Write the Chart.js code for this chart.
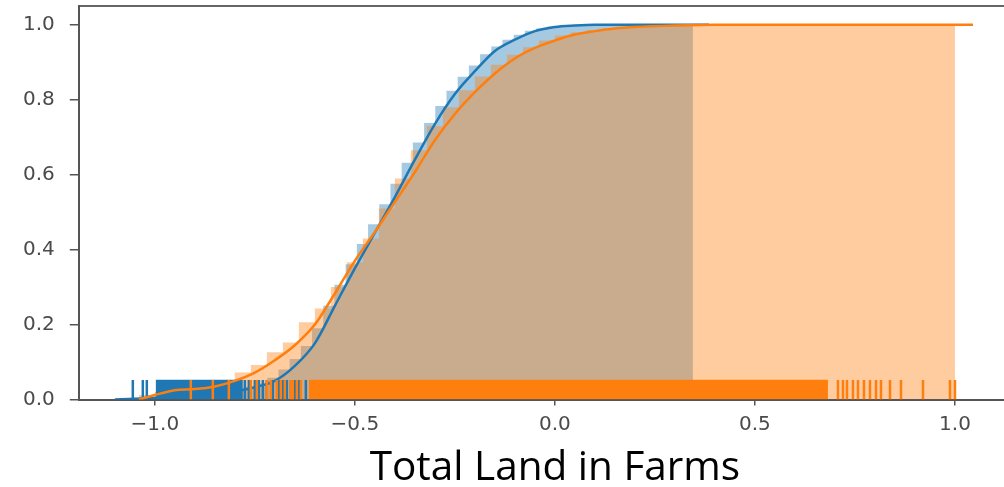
<!DOCTYPE html>
<html lang="en">
<head>
    <meta charset="UTF-8">
    <title>Total Land in Farms</title>
    <script src="https://cdn.jsdelivr.net/npm/chart.js"></script>
    <style>
        body {
            margin: 0;
            background: #ffffff;
            overflow: hidden;
        }
        #wrap {
            position: absolute;
            left: 0;
            top: 0;
            width: 1031px;
            height: 487px;
        }
    </style>
</head>
<body>
    <div id="wrap">
        <canvas id="cdfChart" width="1031" height="487"></canvas>
    </div>

    <script>
        // axis ticks
        const xTicks = [-1.0, -0.5, 0.0, 0.5, 1.0];
        const yTicks = [0.0, 0.2, 0.4, 0.6, 0.8, 1.0];

        // blue series: cumulative histogram (bin edges + cumulative share per bin)
        const blueEdges = [-1.055, -1.027, -0.999, -0.971, -0.943, -0.915, -0.887, -0.859, -0.831, -0.803,
            -0.775, -0.747, -0.719, -0.691, -0.663, -0.635, -0.607, -0.579, -0.551, -0.523,
            -0.495, -0.467, -0.439, -0.411, -0.383, -0.355, -0.327, -0.299, -0.271, -0.243,
            -0.215, -0.187, -0.159, -0.131, -0.103, -0.075, -0.047, -0.019, 0.009, 0.037,
            0.065, 0.093, 0.121, 0.149, 0.177, 0.205, 0.233, 0.261, 0.289, 0.317, 0.345];
        const blueHist = [0.004, 0.006, 0.010, 0.012, 0.014, 0.016, 0.018, 0.020, 0.022, 0.027,
            0.034, 0.043, 0.058, 0.080, 0.108, 0.143, 0.190, 0.250, 0.306, 0.361,
            0.415, 0.468, 0.521, 0.576, 0.632, 0.686, 0.738, 0.783, 0.824, 0.861,
            0.891, 0.921, 0.942, 0.960, 0.973, 0.984, 0.990, 0.995, 0.997, 0.998,
            0.999, 0.999, 0.999, 0.999, 0.999, 1.0, 1.0, 1.0, 1.0, 1.0];

        // blue series: cumulative KDE
        const blueKdeX = [-1.10, -1.00, -0.90, -0.80, -0.75, -0.70, -0.65, -0.60, -0.55, -0.50, -0.45, -0.40,
            -0.35, -0.30, -0.25, -0.20, -0.15, -0.10, -0.05, 0.00, 0.05, 0.10, 0.20, 0.30, 0.385];
        const blueKdeY = [0.000, 0.004, 0.010, 0.022, 0.033, 0.050, 0.090, 0.150, 0.250, 0.350, 0.445, 0.540,
            0.640, 0.735, 0.815, 0.876, 0.930, 0.960, 0.983, 0.994, 0.998, 1.000, 1.000, 1.000, 1.000];

        // orange series: cumulative histogram
        const orangeEdges = [-1.04, -1.00, -0.96, -0.92, -0.88, -0.84, -0.80, -0.76, -0.72, -0.68, -0.64,
            -0.60, -0.56, -0.52, -0.48, -0.44, -0.40, -0.36, -0.32, -0.28, -0.24,
            -0.20, -0.16, -0.12, -0.08, -0.04, 0.00, 0.04, 0.08, 0.12, 0.16,
            0.20, 0.24, 0.28, 0.32, 0.36, 0.40, 0.44, 0.48, 0.52, 0.56,
            0.60, 0.64, 0.68, 0.72, 0.76, 0.80, 0.84, 0.88, 0.92, 0.96, 1.00];
        const orangeHist = [0.012, 0.020, 0.026, 0.030, 0.038, 0.050, 0.072, 0.092, 0.126, 0.152,
            0.206, 0.243, 0.300, 0.366, 0.430, 0.510, 0.590, 0.665, 0.730, 0.780,
            0.825, 0.862, 0.893, 0.920, 0.940, 0.958, 0.971, 0.980, 0.986, 0.990,
            0.993, 0.995, 0.996, 0.997, 0.998, 0.998, 0.998, 0.999, 0.999, 0.999,
            0.999, 0.999, 0.999, 0.999, 1.0, 1.0, 1.0, 1.0, 1.0, 1.0, 1.0];

        // orange series: cumulative KDE
        const orangeKdeX = [-1.04, -1.00, -0.95, -0.90, -0.85, -0.80, -0.75, -0.70, -0.65, -0.60, -0.55, -0.50,
            -0.45, -0.40, -0.35, -0.30, -0.25, -0.20, -0.15, -0.10, -0.05, 0.00, 0.05, 0.10,
            0.15, 0.20, 0.30, 0.40, 0.70, 1.045];
        const orangeKdeY = [0.000, 0.012, 0.025, 0.028, 0.035, 0.050, 0.072, 0.105, 0.145, 0.200, 0.283, 0.370,
            0.447, 0.527, 0.607, 0.692, 0.762, 0.820, 0.870, 0.910, 0.938, 0.958, 0.974, 0.983,
            0.990, 0.994, 0.998, 1.000, 1.000, 1.000];

        // rug marks: single ticks and stretches so dense they merge into a solid block
        const blueRugTicks = [-1.055, -1.030, -1.020, -0.775, -0.765, -0.750, -0.740, -0.730, -0.720,
            -0.705, -0.690, -0.680, -0.670, -0.660, -0.650, -0.640, -0.6225];
        const blueRugBands = [[-0.998, -0.780]];
        const orangeRugTicks = [-0.910, -0.855, -0.815, -0.760, -0.745, -0.720, -0.710, -0.695, -0.685,
            -0.675, -0.660, -0.655, -0.645, -0.635, 0.7075, 0.720, 0.730, 0.745, 0.7575, 0.7725,
            0.7875, 0.8025, 0.815, 0.8375, 0.865, 0.920, 0.9875, 1.000];
        const orangeRugBands = [[-0.615, 0.6825]];
        const rugTop = 0.0525;

        const BLUE = '#1f77b4';
        const ORANGE = '#ff7f0e';

        function histPoints(edges, values) {
            const pts = [{ x: edges[0], y: 0 }];
            values.forEach((v, i) => pts.push({ x: edges[i + 1], y: v }));
            return pts;
        }

        function zipPoints(xs, ys) {
            return xs.map((x, i) => ({ x: x, y: ys[i] }));
        }

        function fmt(v) {
            const s = Number(v).toFixed(1);
            return s === '-0.0' ? '0.0' : s.replace('-', '\u2212');
        }

        // labels near the edges should not push the plot area inwards
        function noEdgePadding(s) {
            s.paddingTop = 0;
            s.paddingBottom = 0;
            s.paddingLeft = 0;
            s.paddingRight = 0;
        }

        const datasets = [
            {
                type: 'line',
                data: histPoints(blueEdges, blueHist),
                stepped: 'after',
                fill: 'origin',
                backgroundColor: 'rgba(31,119,180,0.4)',
                borderWidth: 0,
                pointRadius: 0,
                order: 20
            },
            {
                type: 'line',
                data: histPoints(orangeEdges, orangeHist),
                stepped: 'after',
                fill: 'origin',
                backgroundColor: 'rgba(255,127,14,0.4)',
                borderWidth: 0,
                pointRadius: 0,
                order: 19
            },
            {
                type: 'line',
                data: zipPoints(blueKdeX, blueKdeY),
                borderColor: BLUE,
                borderWidth: 2.5,
                cubicInterpolationMode: 'monotone',
                fill: false,
                pointRadius: 0,
                order: 10
            }
        ];

        blueRugBands.forEach(b => {
            datasets.push({
                type: 'line',
                data: [{ x: b[0], y: rugTop }, { x: b[1], y: rugTop }],
                fill: 'origin',
                backgroundColor: BLUE,
                borderWidth: 0,
                pointRadius: 0,
                order: 9
            });
        });

        datasets.push({
            type: 'scatter',
            data: blueRugTicks.map(x => ({ x: x, y: rugTop / 2 })),
            pointStyle: 'line',
            rotation: 90,
            radius: 9.8,
            borderColor: BLUE,
            borderWidth: 2.5,
            order: 8
        });

        datasets.push({
            type: 'line',
            data: zipPoints(orangeKdeX, orangeKdeY),
            borderColor: ORANGE,
            borderWidth: 2.5,
            cubicInterpolationMode: 'monotone',
            fill: false,
            pointRadius: 0,
            order: 7
        });

        orangeRugBands.forEach(b => {
            datasets.push({
                type: 'line',
                data: [{ x: b[0], y: rugTop }, { x: b[1], y: rugTop }],
                fill: 'origin',
                backgroundColor: ORANGE,
                borderWidth: 0,
                pointRadius: 0,
                order: 6
            });
        });

        datasets.push({
            type: 'scatter',
            data: orangeRugTicks.map(x => ({ x: x, y: rugTop / 2 })),
            pointStyle: 'line',
            rotation: 90,
            radius: 9.8,
            borderColor: ORANGE,
            borderWidth: 2.5,
            order: 5
        });

        const tickFont = { family: 'DejaVu Sans', size: 20 };

        new Chart(document.getElementById('cdfChart').getContext('2d'), {
            type: 'line',
            data: { datasets: datasets },
            options: {
                responsive: false,
                animation: false,
                events: [],
                layout: { autoPadding: false, padding: { left: 8, top: 6, right: 0, bottom: 0 } },
                plugins: {
                    legend: { display: false },
                    tooltip: { enabled: false }
                },
                scales: {
                    x: {
                        type: 'linear',
                        position: 'bottom',
                        min: -1.19,
                        max: 1.19,
                        afterBuildTicks: s => { s.ticks = xTicks.map(v => ({ value: v })); },
                        afterFit: noEdgePadding,
                        ticks: {
                            font: tickFont,
                            color: '#4a4a4a',
                            padding: 7,
                            maxRotation: 0,
                            autoSkip: false,
                            callback: v => fmt(v)
                        },
                        grid: { drawOnChartArea: false, drawTicks: true, tickLength: 6, color: '#555', lineWidth: 1.5 },
                        border: { display: true, color: '#555', width: 2 },
                        title: {
                            display: true,
                            text: 'Total Land in Farms',
                            font: { family: 'Open Sans', size: 40.5, lineHeight: 0.9 },
                            color: '#000',
                            padding: { top: 7, bottom: 0 }
                        }
                    },
                    xTop: {
                        type: 'linear',
                        position: 'top',
                        min: -1.19,
                        max: 1.19,
                        afterBuildTicks: s => { s.ticks = []; },
                        afterFit: noEdgePadding,
                        ticks: { display: false },
                        grid: { display: false, drawTicks: false },
                        border: { display: true, color: '#666', width: 2 }
                    },
                    y: {
                        type: 'linear',
                        min: 0,
                        max: 1.05,
                        afterBuildTicks: s => { s.ticks = yTicks.map(v => ({ value: v })); },
                        afterFit: noEdgePadding,
                        ticks: {
                            font: tickFont,
                            color: '#4a4a4a',
                            padding: 15,
                            callback: v => fmt(v)
                        },
                        grid: { drawOnChartArea: false, drawTicks: true, tickLength: 9, color: '#555', lineWidth: 1.5 },
                        border: { display: true, color: '#555', width: 2 }
                    }
                }
            }
        });
    </script>
</body>
</html>
